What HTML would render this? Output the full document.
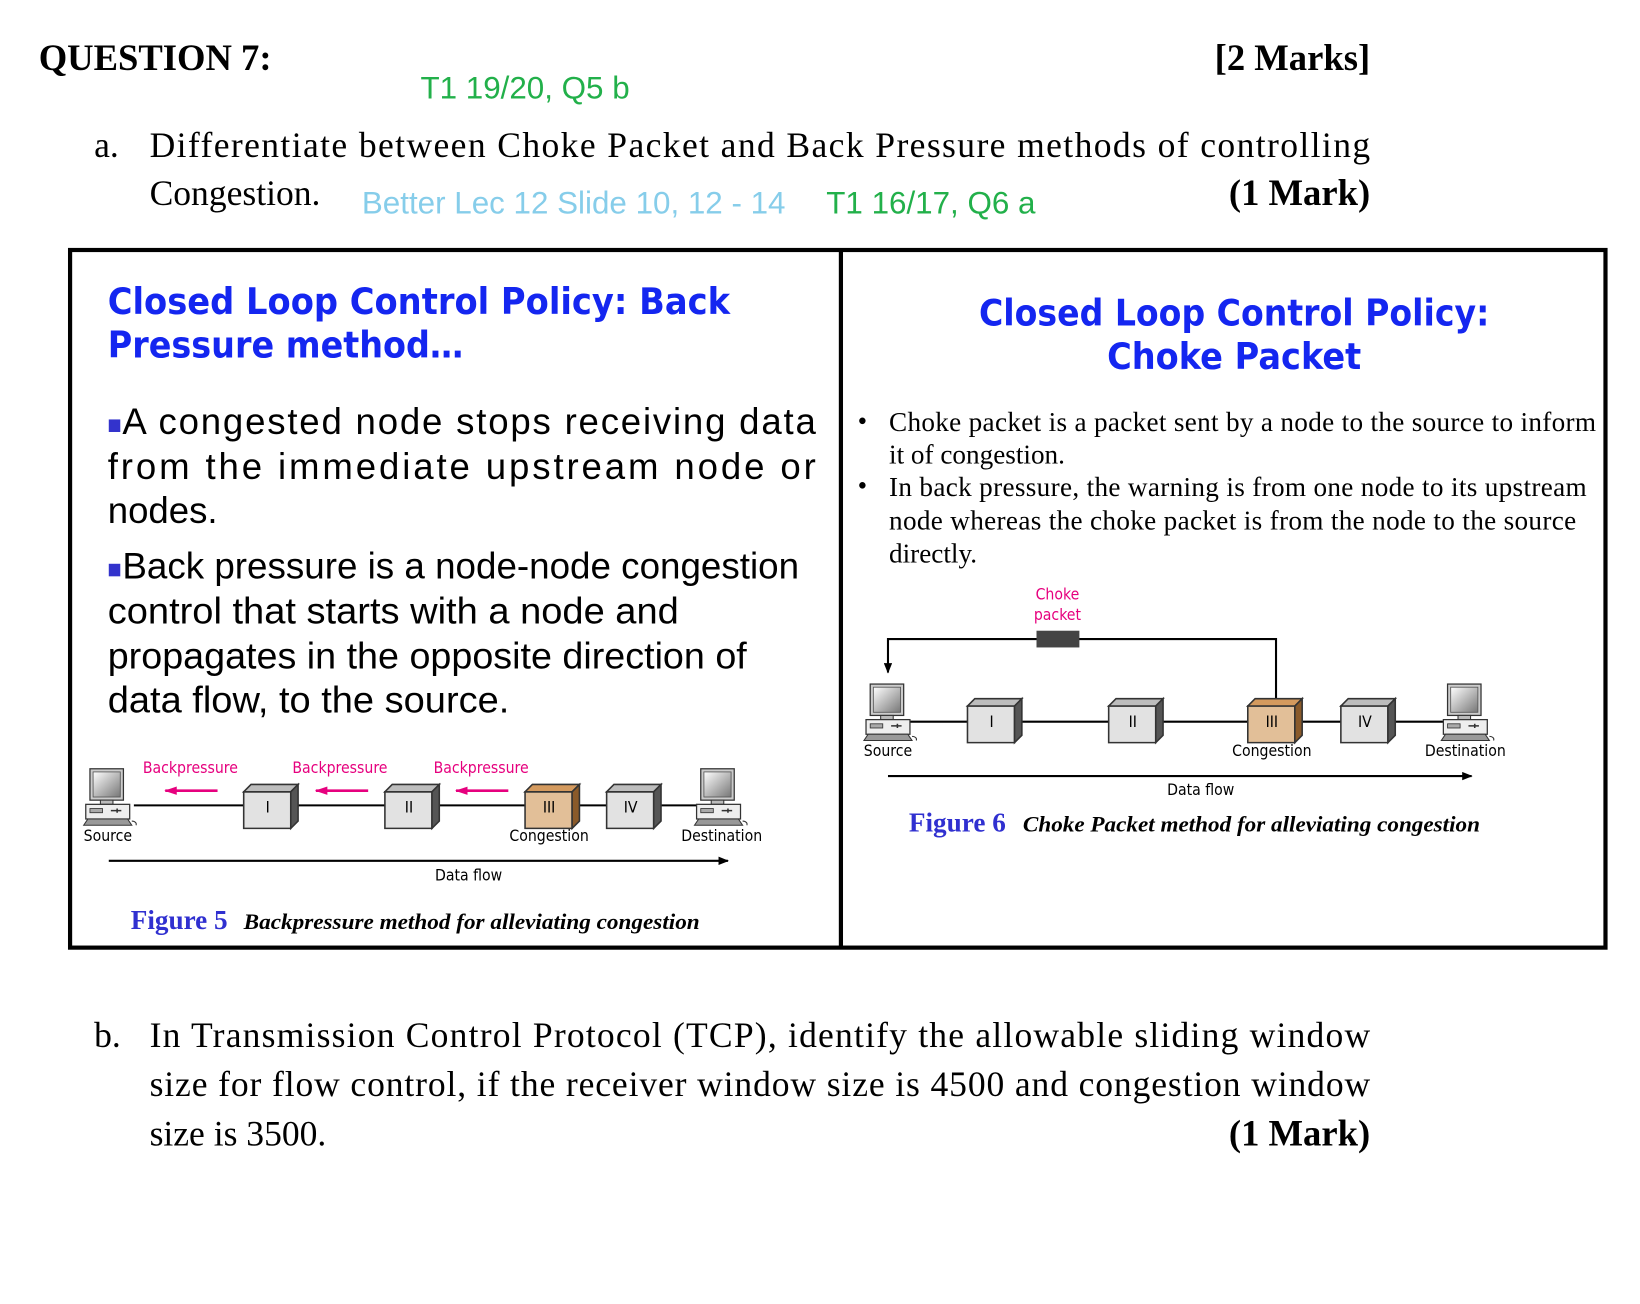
<!DOCTYPE html>
<html><head><meta charset="utf-8"><style>html,body{margin:0;padding:0;background:#fff}svg{display:block}</style></head>
<body>
<svg width="1640" height="1304" viewBox="0 0 1568 1246.7" xmlns="http://www.w3.org/2000/svg">
<defs>
<linearGradient id="scr" x1="0" y1="0" x2="1" y2="1"><stop offset="0" stop-color="#fff"/><stop offset="1" stop-color="#777"/></linearGradient>
<g id="comp">
<rect x="8" y="0" width="32" height="30" fill="#ccc" stroke="#333" stroke-width="1.2"/>
<rect x="11" y="3" width="26" height="24" fill="url(#scr)" stroke="#555" stroke-width="0.8"/>
<rect x="18" y="30" width="12" height="4" fill="#bbb" stroke="#333" stroke-width="1"/>
<rect x="4" y="34" width="42" height="14" fill="#eee" stroke="#333" stroke-width="1.2"/>
<rect x="8" y="38" width="12" height="4" fill="#aaa" stroke="#333" stroke-width="0.8"/>
<path d="M28 40h10M34 38v4" stroke="#333" stroke-width="1.5"/>
<path d="M2 54l4-6h38l4 6z" fill="#999" stroke="#333" stroke-width="1"/>
<path d="M48 50c3 0 5 2 4 4" fill="none" stroke="#333"/>
</g>
<g id="bx"><path d="M0 7h45v35H0z" fill="#e2e2e2" stroke="#333" stroke-width="1.5"/><path d="M0 7l7-7h45l-7 7z" fill="#bdbdbd" stroke="#333" stroke-width="1.5"/><path d="M45 7l7-7v35l-7 7z" fill="#555" stroke="#333" stroke-width="1.5"/></g>
<g id="bxo"><path d="M0 7h45v35H0z" fill="#e2bf98" stroke="#333" stroke-width="1.5"/><path d="M0 7l7-7h45l-7 7z" fill="#d49a5e" stroke="#333" stroke-width="1.5"/><path d="M45 7l7-7v35l-7 7z" fill="#8a5a2a" stroke="#333" stroke-width="1.5"/></g>
<marker id="ah" markerWidth="10" markerHeight="8" refX="9" refY="4" orient="auto" markerUnits="userSpaceOnUse"><path d="M0 0L10 4L0 8z" fill="#000"/></marker>
<marker id="ap" markerWidth="12" markerHeight="8" refX="11" refY="4" orient="auto" markerUnits="userSpaceOnUse"><path d="M0 0L12 4L0 8z" fill="#e6007e"/></marker>
</defs>
<g font-family="Liberation Serif, serif">
<text x="37" y="67" font-size="35" font-weight="bold">QUESTION 7:</text>
<text x="1310" y="67" font-size="35" font-weight="bold" text-anchor="end">[2 Marks]</text>
<text x="402" y="94" font-size="30" fill="#22b04a" font-family="Liberation Sans, sans-serif">T1 19/20, Q5 b</text>
<text x="90" y="150" font-size="34">a.</text>
<text x="143" y="150" font-size="34" textLength="1167" lengthAdjust="spacing">Differentiate between Choke Packet and Back Pressure methods of controlling</text>
<text x="143" y="196" font-size="34">Congestion.</text>
<text x="346" y="204" font-size="30" fill="#86cdea" font-family="Liberation Sans, sans-serif">Better Lec 12 Slide 10, 12 - 14</text>
<text x="790" y="204" font-size="30" fill="#22b04a" font-family="Liberation Sans, sans-serif">T1 16/17, Q6  a</text>
<text x="1310" y="196" font-size="35" font-weight="bold" text-anchor="end">(1 Mark)</text>
</g>
<rect x="67" y="239" width="1468" height="667" fill="none" stroke="#000" stroke-width="4"/>
<line x1="804" y1="239" x2="804" y2="906" stroke="#000" stroke-width="4"/>
<g font-family="DejaVu Sans, sans-serif" font-weight="bold" fill="#1426f0" font-size="35">
<text x="103" y="300" textLength="595" lengthAdjust="spacingAndGlyphs">Closed Loop Control Policy:  Back</text>
<text x="103" y="342" textLength="340" lengthAdjust="spacingAndGlyphs">Pressure method…</text>
<text x="1180" y="311" text-anchor="middle" textLength="488" lengthAdjust="spacingAndGlyphs">Closed Loop Control Policy:</text>
<text x="1180" y="353" text-anchor="middle" textLength="243" lengthAdjust="spacingAndGlyphs">Choke Packet</text>
</g>
<g font-family="Liberation Sans, sans-serif" font-size="35">
<rect x="104" y="401" width="11" height="12" fill="#3333cc"/>
<text x="117" y="415" textLength="663" lengthAdjust="spacing">A congested node stops receiving data</text>
<text x="103" y="458" textLength="677" lengthAdjust="spacing">from the immediate upstream node or</text>
<text x="103" y="500">nodes.</text>
<rect x="104" y="539" width="11" height="12" fill="#3333cc"/>
<text x="117" y="553" textLength="647" lengthAdjust="spacingAndGlyphs">Back pressure is a node-node congestion</text>
<text x="103" y="596" textLength="546" lengthAdjust="spacingAndGlyphs">control that starts with a node and</text>
<text x="103" y="639" textLength="611" lengthAdjust="spacingAndGlyphs">propagates in the opposite direction of</text>
<text x="103" y="681" textLength="384" lengthAdjust="spacingAndGlyphs">data flow, to the source.</text>
</g>
<g font-family="Liberation Serif, serif" font-size="26">
<text x="820" y="411">•</text><text x="850" y="412" textLength="676" lengthAdjust="spacing">Choke packet is a packet sent by a node to the source to inform</text>
<text x="850" y="443">it of congestion.</text>
<text x="820" y="473">•</text><text x="850" y="474" textLength="667" lengthAdjust="spacing">In back pressure, the warning is from one node to its upstream</text>
<text x="850" y="506" textLength="657" lengthAdjust="spacing">node whereas the choke packet is from the node to the source</text>
<text x="850" y="538">directly.</text>
</g>
<g font-family="DejaVu Sans Condensed, DejaVu Sans, sans-serif" font-size="15">
<line x1="128" y1="770" x2="670" y2="770" stroke="#000" stroke-width="2"/>
<use href="#comp" x="78" y="735"/>
<use href="#comp" x="662" y="735"/>
<use href="#bx" x="233" y="750"/><use href="#bx" x="368" y="750"/><use href="#bxo" x="502" y="750"/><use href="#bx" x="580" y="750"/>
<text x="256" y="777" text-anchor="middle">I</text><text x="391" y="777" text-anchor="middle">II</text><text x="525" y="777" text-anchor="middle">III</text><text x="603" y="777" text-anchor="middle">IV</text>
<g fill="#e6007e"><text x="182" y="739" text-anchor="middle">Backpressure</text><text x="325" y="739" text-anchor="middle">Backpressure</text><text x="460" y="739" text-anchor="middle">Backpressure</text></g>
<g stroke="#e6007e" stroke-width="2.5"><line x1="208" y1="756" x2="158" y2="756" marker-end="url(#ap)"/><line x1="352" y1="756" x2="302" y2="756" marker-end="url(#ap)"/><line x1="486" y1="756" x2="436" y2="756" marker-end="url(#ap)"/></g>
<text x="80" y="804">Source</text><text x="525" y="804" text-anchor="middle">Congestion</text><text x="690" y="804" text-anchor="middle">Destination</text>
<line x1="104" y1="823" x2="696" y2="823" stroke="#000" stroke-width="2" marker-end="url(#ah)"/>
<text x="448" y="842" text-anchor="middle">Data flow</text>
</g>
<text x="125" y="888" font-family="Liberation Serif, serif" font-size="26" font-weight="bold" fill="#3030d0">Figure 5</text>
<text x="233" y="888" font-family="Liberation Serif, serif" font-size="21" font-weight="bold" font-style="italic" textLength="436" lengthAdjust="spacingAndGlyphs">Backpressure method for alleviating congestion</text>
<g font-family="DejaVu Sans Condensed, DejaVu Sans, sans-serif" font-size="15">
<g fill="#e6007e"><text x="1011" y="573" text-anchor="middle">Choke</text><text x="1011" y="593" text-anchor="middle">packet</text></g>
<path d="M1220 668V611H849V643" fill="none" stroke="#000" stroke-width="2" marker-end="url(#ah)"/>
<rect x="991" y="603" width="41" height="16" fill="#444"/>
<line x1="870" y1="690" x2="1385" y2="690" stroke="#000" stroke-width="2"/>
<use href="#comp" x="824" y="654"/><use href="#comp" x="1376" y="654"/>
<use href="#bx" x="925" y="668"/><use href="#bx" x="1060" y="668"/><use href="#bxo" x="1193" y="668"/><use href="#bx" x="1282" y="668"/>
<text x="948" y="695" text-anchor="middle">I</text><text x="1083" y="695" text-anchor="middle">II</text><text x="1216" y="695" text-anchor="middle">III</text><text x="1305" y="695" text-anchor="middle">IV</text>
<text x="849" y="723" text-anchor="middle">Source</text><text x="1216" y="723" text-anchor="middle">Congestion</text><text x="1401" y="723" text-anchor="middle">Destination</text>
<line x1="849" y1="742" x2="1407" y2="742" stroke="#000" stroke-width="2" marker-end="url(#ah)"/>
<text x="1148" y="760" text-anchor="middle">Data flow</text>
</g>
<text x="869" y="795" font-family="Liberation Serif, serif" font-size="26" font-weight="bold" fill="#3030d0">Figure 6</text>
<text x="978" y="795" font-family="Liberation Serif, serif" font-size="21" font-weight="bold" font-style="italic" textLength="437" lengthAdjust="spacingAndGlyphs">Choke Packet method for alleviating congestion</text>
<g font-family="Liberation Serif, serif" font-size="34">
<text x="90" y="1001">b.</text>
<text x="143" y="1001" textLength="1167" lengthAdjust="spacing">In Transmission Control Protocol (TCP), identify the allowable sliding window</text>
<text x="143" y="1048" textLength="1167" lengthAdjust="spacing">size for flow control, if the receiver window size is 4500 and congestion window</text>
<text x="143" y="1095">size is 3500.</text>
<text x="1310" y="1095" font-size="35" font-weight="bold" text-anchor="end">(1 Mark)</text>
</g>
</svg>
</body></html>
